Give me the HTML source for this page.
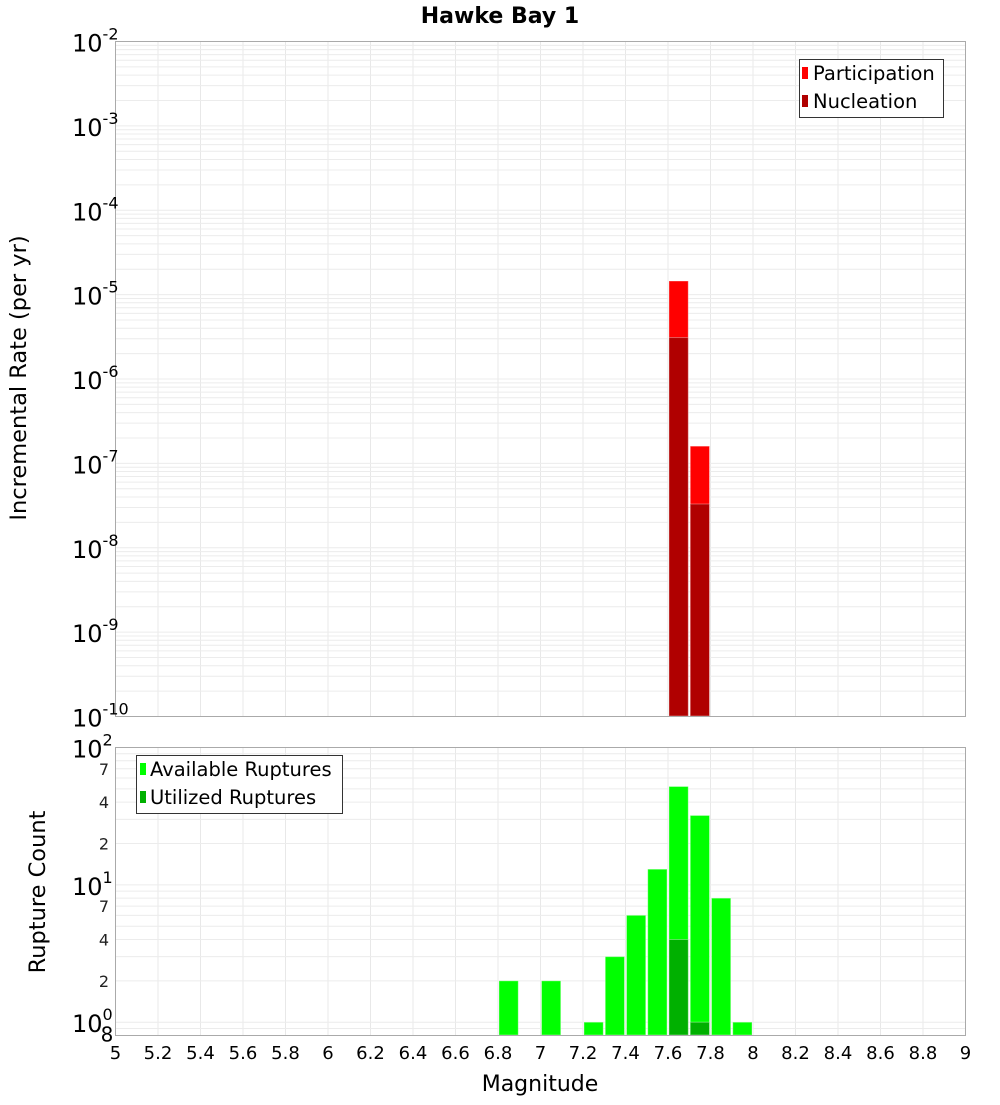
<!DOCTYPE html>
<html><head><meta charset="utf-8"><style>
html,body{margin:0;padding:0;background:#fff;}
svg text{font-family:"DejaVu Sans","Liberation Sans",sans-serif;}
</style></head><body>
<svg id="chart" xmlns="http://www.w3.org/2000/svg" width="1000" height="1100" viewBox="0 0 1000 1100">
<text x="500" y="23" text-anchor="middle" font-size="22" font-weight="bold">Hawke Bay 1</text>
<g id="top-grid"></g>
<g id="top-bars"></g>
<rect x="115.5" y="41.5" width="850" height="675" fill="none" stroke="#aaa"/>
<g id="top-yt"></g>
<text transform="translate(26,378) rotate(-90)" text-anchor="middle" font-size="22.5">Incremental Rate (per yr)</text>
<g id="bot-grid"></g>
<g id="bot-bars"></g>
<rect x="115.5" y="747.5" width="850" height="288" fill="none" stroke="#aaa"/>
<g id="bot-yt"></g>
<text transform="translate(45,892) rotate(-90)" text-anchor="middle" font-size="22.5">Rupture Count</text>
<g id="xt"></g>
<text x="540" y="1091" text-anchor="middle" font-size="22">Magnitude</text>
<g>
<rect x="799.5" y="59.5" width="144" height="58" fill="#fff" stroke="#333"/>
<rect x="802" y="67" width="6" height="12" fill="#ff0000"/>
<text x="813" y="80" font-size="19.5">Participation</text>
<rect x="802" y="95" width="6" height="12" fill="#b00000"/>
<text x="813" y="108" font-size="19.5">Nucleation</text>
</g>
<g>
<rect x="136.5" y="755.5" width="206" height="58" fill="#fff" stroke="#333"/>
<rect x="140" y="763" width="6" height="12" fill="#00ff00"/>
<text x="150" y="776" font-size="19.5">Available Ruptures</text>
<rect x="140" y="791" width="6" height="12" fill="#00b000"/>
<text x="150" y="804" font-size="19.5">Utilized Ruptures</text>
</g>
</svg>
<script>
const rateMags = [7.65, 7.75];
const participation = [1.45e-5, 1.6e-7];
const nucleation = [3.1e-6, 3.3e-8];
const countMags = [6.85, 7.05, 7.25, 7.35, 7.45, 7.55, 7.65, 7.75, 7.85, 7.95];
const available = [2, 2, 1, 3, 6, 13, 52, 32, 8, 1];
const utilizedMags = [7.65, 7.75];
const utilized = [4, 1];
const xTicks = ["5","5.2","5.4","5.6","5.8","6","6.2","6.4","6.6","6.8","7","7.2","7.4","7.6","7.8","8","8.2","8.4","8.6","8.8","9"];
const topExps = [-2,-3,-4,-5,-6,-7,-8,-9,-10];
const botMinor = [2,4,7,20,40,70];

const NS="http://www.w3.org/2000/svg";
const X0=115.5,X1=965.5;
function xs(m){return X0+(m-5)/4*(X1-X0);}
function yTop(v){return 41.5+(-2-Math.log10(v))/8*675;}
function yBot(v){return 747.5+(2-Math.log10(v))/(2-Math.log10(0.8))*288;}
function mk(tag,attrs,parent){const e=document.createElementNS(NS,tag);for(const k in attrs)e.setAttribute(k,attrs[k]);parent.appendChild(e);return e;}
const g=id=>document.getElementById(id);

const tg=g('top-grid'), bg=g('bot-grid');
xTicks.forEach(t=>{const x=xs(parseFloat(t));
  const l1=mk('line',{x1:x,x2:x,y1:41,y2:716,stroke:'#e8e8e8'},tg);
  
  
  const l2=mk('line',{x1:x,x2:x,y1:747,y2:1035,stroke:'#e8e8e8'},bg);
  
  
});
for(let e=-10;e<-2;e++)for(let k=1;k<10;k++){const y=yTop(k*Math.pow(10,e));
  const l=mk('line',{x1:X0,x2:X1,y1:y,y2:y,stroke:'#ececec'},tg);
  
  }
for(let e=-1;e<2;e++)for(let k=1;k<10;k++){const v=k*Math.pow(10,e);if(v<0.8)continue;const y=yBot(v);
  const l=mk('line',{x1:X0,x2:X1,y1:y,y2:y,stroke:'#ececec'},bg);
  
  }

function bar(parent,m,v,yf,base,color,name){const xa=xs(m-0.05)+1,xb=xs(m+0.05)-1;const y=yf(v);
  const r=mk('rect',{x:xa,y:y,width:xb-xa,height:base-y,fill:color,stroke:'rgba(255,255,255,0.35)','stroke-width':1},parent);
  
  }
const tb=g('top-bars');
rateMags.forEach((m,i)=>bar(tb,m,participation[i],yTop,716,'#ff0000','participation-bar'));
rateMags.forEach((m,i)=>bar(tb,m,nucleation[i],yTop,716,'#b00000','nucleation-bar'));
const bb=g('bot-bars');
countMags.forEach((m,i)=>bar(bb,m,available[i],yBot,1035,'#00ff00','available-bar'));
utilizedMags.forEach((m,i)=>bar(bb,m,utilized[i],yBot,1035,'#00b000','utilized-bar'));

const ty=g('top-yt');
topExps.forEach(e=>{const y=yTop(Math.pow(10,e));
  const t=mk('text',{x:72,y:y+10,'font-size':24},ty);
  
  
  t.textContent='10';
  const s=mk('tspan',{dy:-12,'font-size':16},t);s.textContent=String(e);});
const by=g('bot-yt');
[[2,100],[1,10],[0,1]].forEach(([e,v])=>{const y=yBot(v);
  const t=mk('text',{x:72,y:y+10,'font-size':24},by);
  
  
  t.textContent='10';
  const s=mk('tspan',{dy:-12,'font-size':16},t);s.textContent=String(e);});
botMinor.concat([0.8]).forEach(v=>{const y=yBot(v);
  const d=String(v).replace(/^0\./,'')[0];
  const t=mk('text',{x:v===0.8?107:104,y:y+6,'font-size':v===0.8?20:16,'text-anchor':'middle',fill:v===0.8?'#000':'#222'},by);
  
  
  t.textContent=d;});
const xt=g('xt');
xTicks.forEach(s=>{const t=mk('text',{x:xs(parseFloat(s)),y:1059,'font-size':18,'text-anchor':'middle'},xt);
  
  
  t.textContent=s;});
</script>
</body></html>
